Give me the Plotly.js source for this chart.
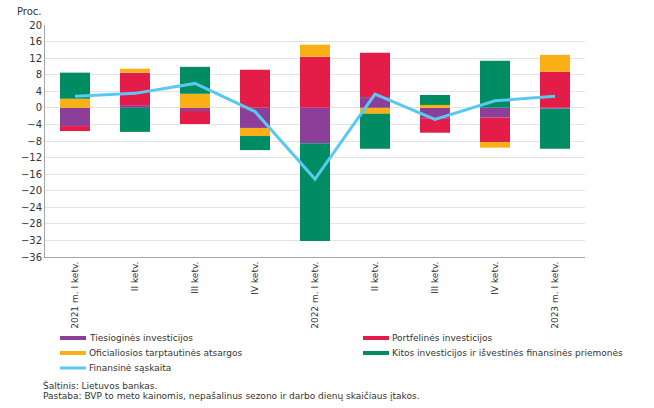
<!DOCTYPE html>
<html><head><meta charset="utf-8">
<script src="https://cdn.plot.ly/plotly-3.0.1.min.js"></script>
<style>html,body{margin:0;padding:0;background:#fff}#c{width:654px;height:408px}</style>
</head><body><div id="c"></div>
<script>
var tickLabels = ["2021 m. I ketv.","II ketv.","III ketv.","IV ketv.","2022 m. I ketv.","II ketv.","III ketv.","IV ketv.","2023 m. I ketv."];
var xIdx = [0,1,2,3,4,5,6,7,8];
var tiesiogines = [-4.4, 0.65, -0.75, -4.85, -8.55, 2.6, -2.5, -2.35, -0.2];
var portfelines = [-1.2, 7.85, -3.15, 9.2, 12.35, 10.7, -3.5, -5.9, 8.7];
var oficialiosios = [2.2, 0.95, 3.4, -1.95, 2.9, -1.45, 0.7, -1.35, 4.1];
var kitos = [6.3, -5.8, 6.5, -3.4, -23.6, -8.45, 2.4, 11.4, -9.7];
var finansine = [2.8, 3.5, 5.9, -0.9, -17.2, 3.3, -2.8, 1.7, 2.8];

var names = ["Tiesioginės investicijos","Portfelinės investicijos","Oficialiosios tarptautinės atsargos","Kitos investicijos ir išvestinės finansinės priemonės","Finansinė sąskaita"];
var colors = ["#8B3F98","#E31D48","#FBAF17","#008C62","#5BC8F2"];
var series = [tiesiogines, portfelines, oficialiosios, kitos];

var data = [];
series.forEach(function(s,i){
  data.push({type:'bar', x:xIdx, y:s, name:names[i], marker:{color:colors[i], line:{width:0}}, showlegend:false, hoverinfo:'y'});
});
data.push({type:'scatter', mode:'lines', x:xIdx, y:finansine, name:names[4], line:{color:colors[4], width:3}, showlegend:false});

var f = "Verdana, 'DejaVu Sans', sans-serif";
// plot area in px: left 45, right 585, top 25, bottom 257
var L=45, R=585, T=25, B=257;
function px(v){ return (v-L)/(R-L); }
function py(v){ return (B-v)/(B-T); }

var shapes = [], annotations = [];
// custom legend: two columns, 15px rows
names.forEach(function(n,i){
  var col = i%2, row = Math.floor(i/2);
  var x0 = 60 + col*303, yy = 338 + row*15;
  shapes.push({type:'line', xref:'paper', yref:'paper', x0:px(x0), x1:px(x0+26), y0:py(yy), y1:py(yy),
               line:{color:colors[i], width:(i===4?3:4)}});
  annotations.push({text:n, xref:'paper', yref:'paper', x:px(x0+27), y:py(yy), xanchor:'left', yanchor:'middle',
                    showarrow:false, font:{size:9, family:f, color:'#333'}});
});
annotations.push({text:'Proc.', xref:'paper', yref:'paper', x:px(44), y:py(11), xanchor:'right', yanchor:'middle', showarrow:false, font:{size:10, family:f, color:'#333'}});
annotations.push({text:'Šaltinis: Lietuvos bankas.', xref:'paper', yref:'paper', x:px(41), y:py(385), xanchor:'left', yanchor:'middle', showarrow:false, font:{size:9, family:f, color:'#333'}});
annotations.push({text:'Pastaba: BVP to meto kainomis, nepašalinus sezono ir darbo dienų skaičiaus įtakos.', xref:'paper', yref:'paper', x:px(41), y:py(396), xanchor:'left', yanchor:'middle', showarrow:false, font:{size:9, family:f, color:'#333'}});

var layout = {
  width:654, height:408,
  margin:{l:L, r:654-R, t:T, b:408-B, autoexpand:false},
  paper_bgcolor:'#fff', plot_bgcolor:'#fff',
  barmode:'relative', bargap:0.5,
  font:{family:f, size:10, color:'#333'},
  showlegend:false,
  xaxis:{range:[-0.5,8.5], tickvals:xIdx, ticktext:tickLabels, tickangle:-90, showgrid:false, zeroline:false,
         showline:true, linecolor:'#a6a6a6', linewidth:1, ticks:'', tickfont:{size:9, family:f, color:'#333'}, fixedrange:true, automargin:false},
  yaxis:{range:[-36,20], dtick:4, tick0:0, showgrid:true, gridcolor:'#e4e4e4', gridwidth:1, zeroline:false,
         showline:true, linecolor:'#a6a6a6', linewidth:1, ticks:'', tickfont:{size:10, family:f, color:'#333'}, fixedrange:true, automargin:false},
  shapes:shapes,
  annotations:annotations
};
Plotly.newPlot('c', data, layout, {displayModeBar:false, staticPlot:true});
</script></body></html>
